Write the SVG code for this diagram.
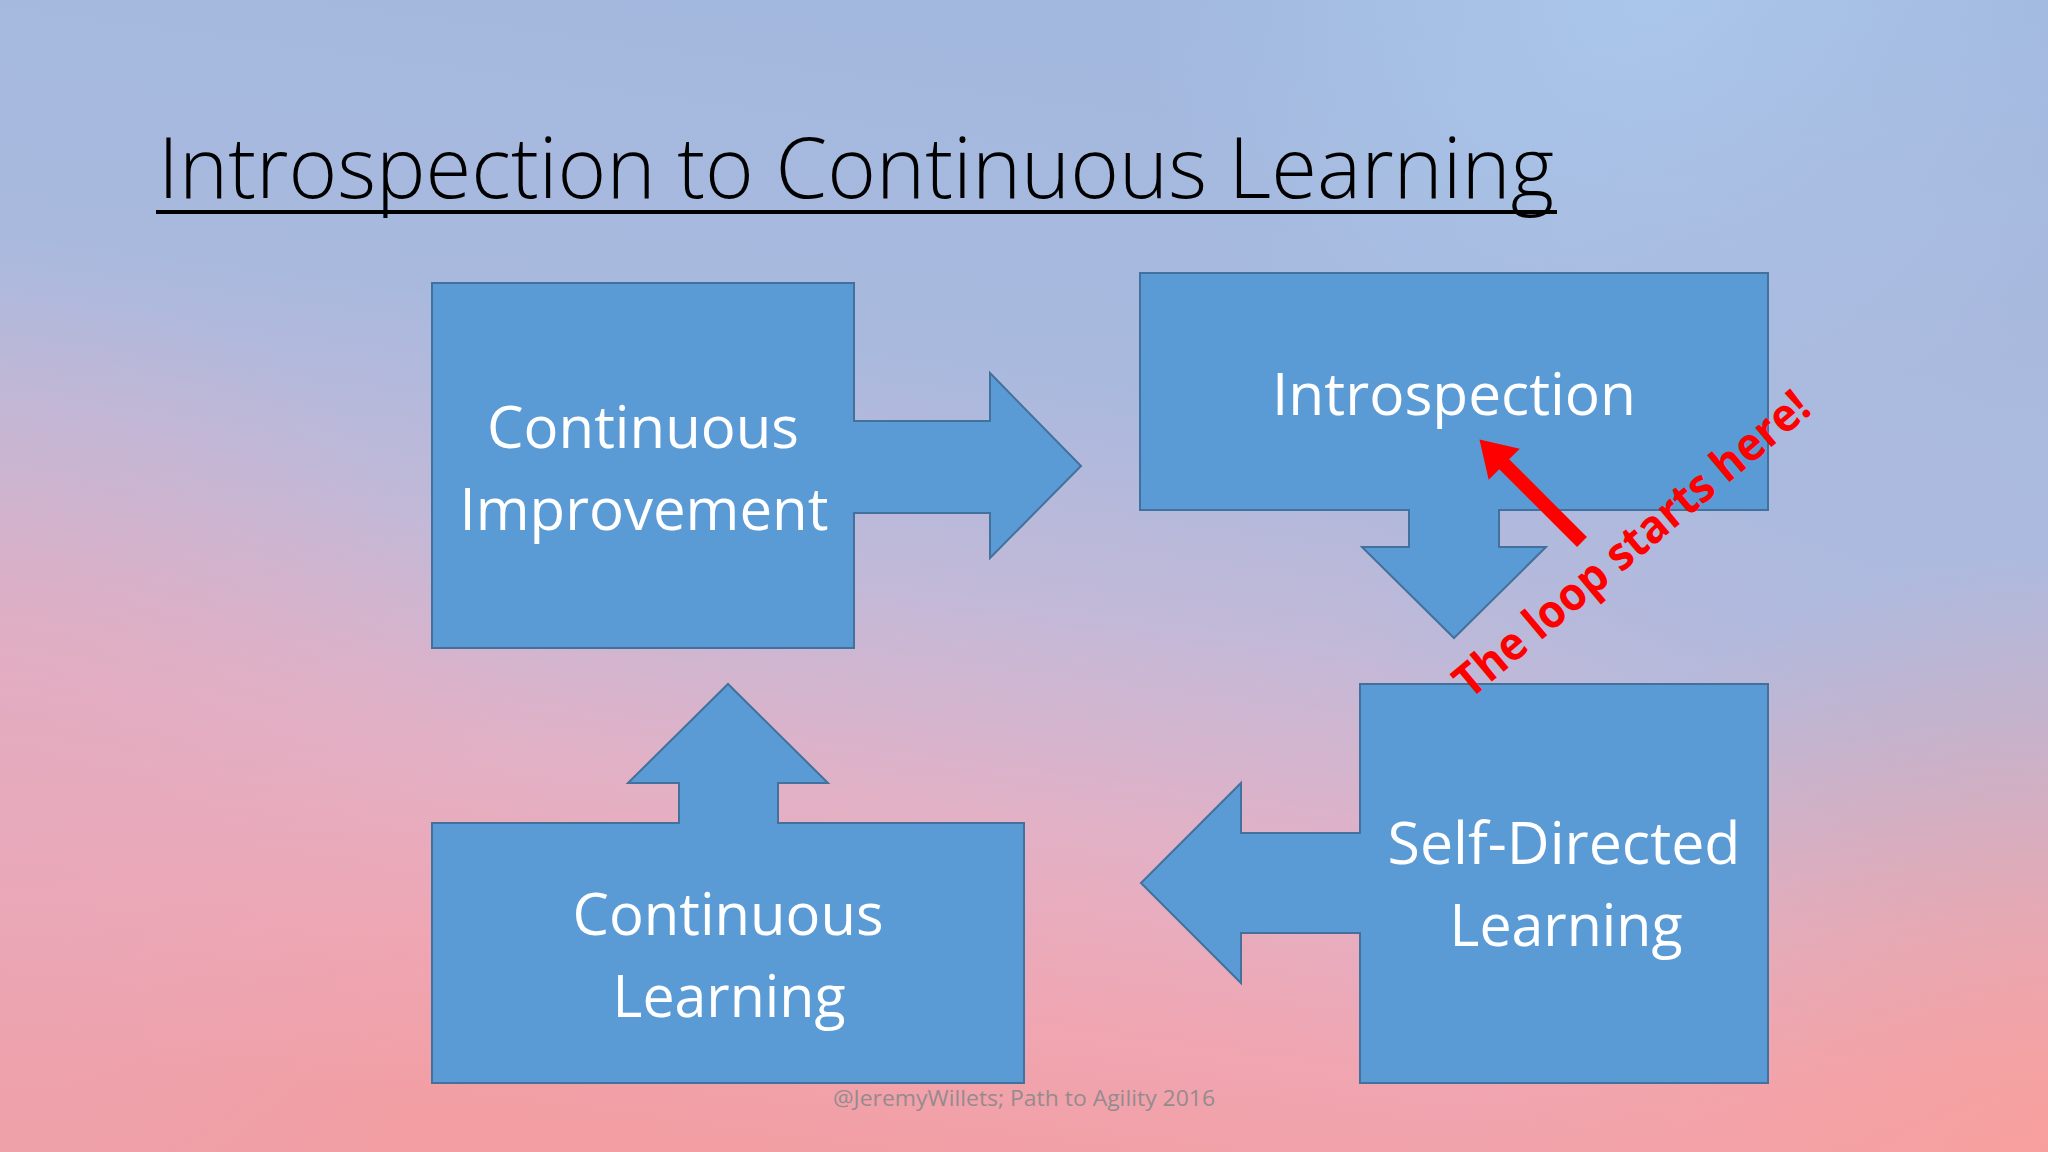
<svg xmlns="http://www.w3.org/2000/svg" width="2048" height="1152" viewBox="0 0 2048 1152">
  <defs>
    <linearGradient id="bg" x1="0.62" y1="0" x2="0.38" y2="1">
      <stop offset="0" stop-color="#a2b8de"/>
      <stop offset="0.33" stop-color="#a9b9de"/>
      <stop offset="0.52" stop-color="#c2b9d8"/>
      <stop offset="0.7" stop-color="#e2b1c6"/>
      <stop offset="0.86" stop-color="#f0a6b2"/>
      <stop offset="1" stop-color="#f29ea3"/>
    </linearGradient>
    <radialGradient id="blueR" cx="1900" cy="520" r="560" gradientUnits="userSpaceOnUse">
      <stop offset="0" stop-color="#acbadf" stop-opacity="0.9"/>
      <stop offset="1" stop-color="#acbadf" stop-opacity="0"/>
    </radialGradient>
    <radialGradient id="blueT" cx="1650" cy="0" r="500" gradientUnits="userSpaceOnUse">
      <stop offset="0" stop-color="#abc8ec" stop-opacity="0.9"/>
      <stop offset="1" stop-color="#abc8ec" stop-opacity="0"/>
    </radialGradient>
    <radialGradient id="pinkL" cx="0" cy="800" r="520" gradientUnits="userSpaceOnUse">
      <stop offset="0" stop-color="#e4a9bd" stop-opacity="0.7"/>
      <stop offset="1" stop-color="#e4a9bd" stop-opacity="0"/>
    </radialGradient>
    <radialGradient id="salmonBR" cx="2048" cy="1152" r="600" gradientUnits="userSpaceOnUse">
      <stop offset="0" stop-color="#f89e9a" stop-opacity="0.85"/>
      <stop offset="1" stop-color="#f89e9a" stop-opacity="0"/>
    </radialGradient>
    <style>
      .shape { fill: #5b9bd5; stroke: #41719c; stroke-width: 2; }
      .lbl { font-family: "Open Sans", "Noto Sans", "Liberation Sans", sans-serif; font-size: 58px; fill: #ffffff; text-anchor: middle; }
      .title { font-family: "Open Sans", "Noto Sans", "Liberation Sans", sans-serif; font-weight: 300; font-size: 84px; fill: #000000; }
      .note { font-family: "Open Sans", "Noto Sans", "Liberation Sans", sans-serif; font-weight: 700; font-size: 46px; fill: #ff0000; }
      .foot { font-family: "Open Sans", "Noto Sans", "Liberation Sans", sans-serif; font-size: 22px; fill: #958b8e; text-anchor: middle; }
    </style>
  </defs>

  <g id="background">
    <rect x="0" y="0" width="2048" height="1152" fill="url(#bg)"/>
    <rect x="0" y="0" width="2048" height="1152" fill="url(#blueT)"/>
    <rect x="0" y="0" width="2048" height="1152" fill="url(#blueR)"/>
    <rect x="0" y="0" width="2048" height="1152" fill="url(#pinkL)"/>
    <rect x="0" y="0" width="2048" height="1152" fill="url(#salmonBR)"/>
  </g>

  <g id="title">
    <text class="title" x="158" y="198" textLength="1396" lengthAdjust="spacingAndGlyphs">Introspection to Continuous Learning</text>
    <rect x="156" y="210" width="1401" height="4" fill="#000000"/>
  </g>

  <g id="node-continuous-improvement">
    <path class="shape" d="M432,283 H854 V421 H990 V373 L1081,466 L990,558 V513 H854 V648 H432 Z"/>
    <text class="lbl" x="643" y="448" textLength="312" lengthAdjust="spacingAndGlyphs">Continuous</text>
    <text class="lbl" x="644" y="530" textLength="369" lengthAdjust="spacingAndGlyphs">Improvement</text>
  </g>

  <g id="node-introspection">
    <path class="shape" d="M1140,273 H1768 V510 H1499 V547 H1546 L1454,638 L1362,547 H1409 V510 H1140 Z"/>
    <text class="lbl" x="1454" y="415" textLength="364" lengthAdjust="spacingAndGlyphs">Introspection</text>
  </g>

  <g id="node-self-directed-learning">
    <path class="shape" d="M1360,684 H1768 V1083 H1360 V933 H1241 V983 L1141,883 L1241,783 V833 H1360 Z"/>
    <text class="lbl" x="1564" y="864" textLength="353" lengthAdjust="spacingAndGlyphs">Self-Directed</text>
    <text class="lbl" x="1566" y="946" textLength="233" lengthAdjust="spacingAndGlyphs">Learning</text>
  </g>

  <g id="node-continuous-learning">
    <path class="shape" d="M432,823 H679 V783 H628 L728,684 L828,783 H778 V823 H1024 V1083 H432 Z"/>
    <text class="lbl" x="728" y="935" textLength="311" lengthAdjust="spacingAndGlyphs">Continuous</text>
    <text class="lbl" x="729" y="1017" textLength="233" lengthAdjust="spacingAndGlyphs">Learning</text>
  </g>

  <g id="connectors">
    <polygon transform="translate(1582,542) rotate(-135)" points="0,-7 110,-7 110,-22 145,0 110,22 110,7 0,7" fill="#ff0000"/>
  </g>

  <g id="annotation">
    <text class="note" transform="translate(1470,700) rotate(-40)" x="0" y="0" textLength="448" lengthAdjust="spacingAndGlyphs">The loop starts here!</text>
  </g>

  <g id="footer">
    <text class="foot" x="1024" y="1106" textLength="382" lengthAdjust="spacingAndGlyphs">@JeremyWillets; Path to Agility 2016</text>
  </g>
</svg>
